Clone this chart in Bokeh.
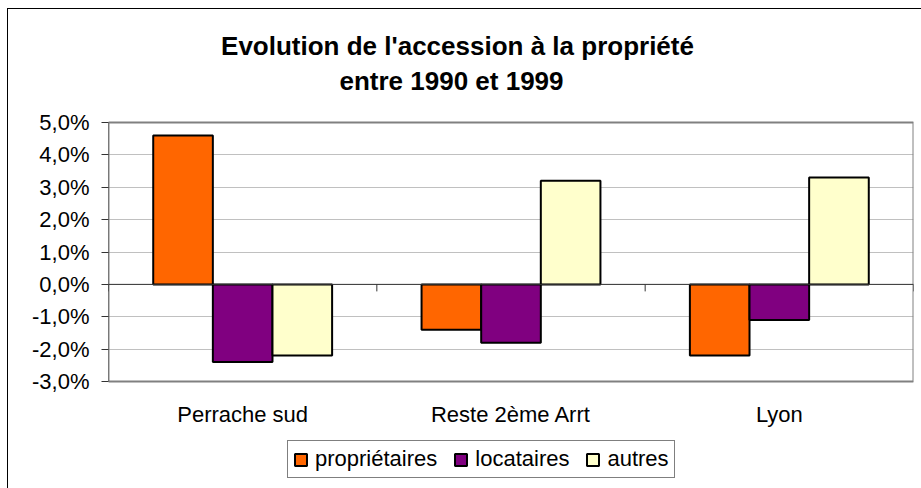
from bokeh.plotting import figure
from bokeh.models import Range1d, FixedTicker, Legend, LegendItem, ColumnDataSource
from bokeh.core.properties import value
from bokeh.embed import file_html
from bokeh.resources import INLINE

# ---- data ----
categories = ["Perrache sud", "Reste 2ème Arrt", "Lyon"]
series_names = ["propriétaires", "locataires", "autres"]
proprietaires = [4.6, -1.4, -2.2]
locataires = [-2.4, -1.8, -1.1]
autres = [-2.2, 3.2, 3.3]
series_values = [proprietaires, locataires, autres]
series_colors = ["#FF6600", "#800080", "#FFFFCC"]
y_ticks = [-3, -2, -1, 0, 1, 2, 3, 4, 5]
title_lines = ["Evolution de l'accession à la propriété", "entre 1990 et 1999"]

FONT = "Liberation Sans"

# ---- layout (page pixels) ----
OX, OY = 8, 9                  # canvas offset on the page
W, H = 913, 479
PLOT_L, PLOT_R, PLOT_T, PLOT_B = 108, 913, 122, 381   # value-axis plot area on the page
FL = PLOT_L - OX
FR = OX + W - PLOT_R
ncat = len(categories)
y_min, y_max = y_ticks[0], y_ticks[-1]
px_per_unit = (PLOT_B - PLOT_T) / (y_max - y_min)
px_per_cat = (PLOT_R - PLOT_L) / ncat
y_hi = y_max + (PLOT_T - OY) / px_per_unit
y_lo = y_max - (OY + H - PLOT_T) / px_per_unit


def y_of(page_y):
    return y_max - (page_y - PLOT_T) / px_per_unit


def x_of(page_x):
    return (page_x - PLOT_L) / px_per_cat


p = figure(width=W, height=H, output_backend="svg", toolbar_location=None,
           x_range=Range1d(0, ncat), y_range=Range1d(y_lo, y_hi),
           x_axis_location=None,
           min_border_left=FL, min_border_right=FR,
           min_border_top=0, min_border_bottom=0)
p.title.visible = False
p.background_fill_color = "white"
p.border_fill_color = "white"
p.outline_line_color = None
p.styles = {"transform": f"translate({OX}px, {OY}px)", "outline": "1px solid black"}

# grid
p.xgrid.visible = False
p.ygrid.ticker = FixedTicker(ticks=y_ticks)
p.ygrid.grid_line_color = "#c0c0c0"
p.ygrid.grid_line_width = 1

# y axis
p.yaxis.ticker = FixedTicker(ticks=y_ticks)
p.yaxis.major_label_overrides = {t: (f"{t:.1f}%").replace(".", ",") for t in y_ticks}
p.yaxis.major_label_text_font = FONT
p.yaxis.major_label_text_font_size = "22px"
p.yaxis.major_label_text_color = "black"
p.yaxis.axis_line_color = None
p.yaxis.major_tick_line_color = "#333333"
p.yaxis.major_tick_out = 7
p.yaxis.major_tick_in = 0
p.yaxis.minor_tick_line_color = None
p.yaxis.major_label_standoff = 12

# plot area box
p.quad(left=[0], right=[ncat], bottom=[y_min], top=[y_max],
       fill_color=None, line_color="#808080", line_width=2)
p.segment(x0=[0], y0=[y_min], x1=[0], y1=[y_max], line_color="#333333", line_width=1)

# bars
n = len(series_names)
gap_width = 1.5
bar_w = 1.0 / (n + gap_width)
cat_centers = [i + 0.5 for i in range(ncat)]
renderers = []
for i, (name, vals, color) in enumerate(zip(series_names, series_values, series_colors)):
    xs = [c + (i - (n - 1) / 2) * bar_w for c in cat_centers]
    src = ColumnDataSource(dict(x=xs, top=vals, bottom=[0] * len(vals)))
    r = p.vbar(x="x", top="top", bottom="bottom", width=bar_w, source=src,
               fill_color=color, line_color="black", line_width=2)
    renderers.append(r)

# zero (category) axis line and its ticks
p.segment(x0=[0], y0=[0], x1=[ncat], y1=[0], line_color="#333333", line_width=1)
edges = list(range(ncat + 1))
tick_len = 7 / px_per_unit
p.segment(x0=edges, y0=[0] * len(edges), x1=edges, y1=[-tick_len] * len(edges),
          line_color="#333333", line_width=1)

# category labels
p.text(x=cat_centers, y=[y_of(414)] * ncat, text=categories,
       text_font=value(FONT), text_font_size="22px", text_color="black",
       text_align="center", text_baseline="middle")

# title (two centred lines)
title_centers_x = [457, 451]
title_centers_y = [45, 80]
p.text(x=[x_of(v) for v in title_centers_x], y=[y_of(v) for v in title_centers_y],
       text=title_lines, text_font=value(FONT), text_font_size="26px",
       text_font_style="bold", text_color="black",
       text_align="center", text_baseline="middle")

# legend
legend = Legend(items=[LegendItem(label=nm, renderers=[r]) for nm, r in zip(series_names, renderers)],
                orientation="horizontal", location=(287 - PLOT_L, OY + H - 478),
                label_text_font=FONT, label_text_font_size="22px", label_text_color="black",
                glyph_width=15, glyph_height=15, label_standoff=7, spacing=16,
                padding=5, margin=0, border_line_color="black", border_line_width=1,
                background_fill_color="white", background_fill_alpha=1.0)
p.add_layout(legend)

open("out.html", "w").write(file_html(p, INLINE))
